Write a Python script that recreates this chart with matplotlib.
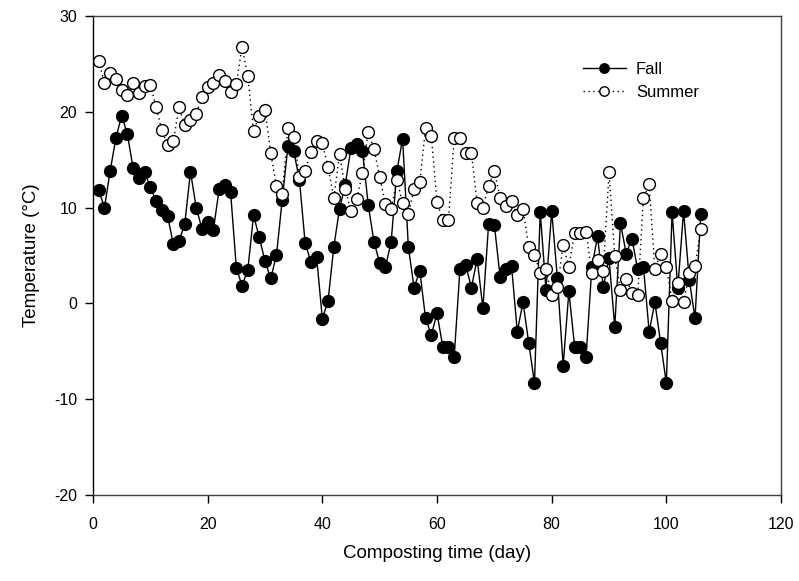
import matplotlib
matplotlib.use("Agg")
import matplotlib.pyplot as plt

plt.rcParams['font.family'] = ['Liberation Sans', 'DejaVu Sans']
plt.rcParams['axes.unicode_minus'] = False

# composting day for each sample
days = list(range(1, 107))

fall = [11.8, 10.0, 13.85, 17.3, 19.6, 17.65, 14.1, 13.1, 13.7, 12.15,
        10.7, 9.7, 9.15, 6.2, 6.55, 8.25, 13.75, 10.0, 7.8, 8.5,
        7.7, 11.9, 12.4, 11.6, 3.7, 1.85, 3.5, 9.2, 6.9, 4.4,
        2.6, 5.05, 10.8, 16.4, 15.9, 12.9, 6.3, 4.35, 4.85, -1.6,
        0.3, 5.9, 9.9, 12.4, 16.25, 16.6, 15.9, 10.3, 6.45, 4.2,
        3.8, 6.4, 13.8, 17.2, 5.9, 1.65, 3.4, -1.55, -3.3, -1.05,
        -4.5, -4.5, -5.55, 3.6, 4.0, 1.65, 4.65, -0.5, 8.3, 8.2,
        2.8, 3.55, 3.9, -2.95, 0.15, -4.15, -8.3, 9.55, 1.45, 9.65,
        2.6, -6.5, 1.25, -4.5, -4.5, -5.55, 3.75, 7.0, 1.7, 4.7,
        -2.45, 8.35, 5.2, 6.75, 3.55, 3.85, -2.95, 0.1, -4.1, -8.35,
        9.5, 1.6, 9.65, 2.45, -1.55, 9.35]

summer = [25.3, 23.0, 24.1, 23.4, 22.3, 21.8, 23.0, 22.0, 22.7, 22.8,
          20.5, 18.1, 16.5, 16.9, 20.5, 18.6, 19.1, 19.8, 21.5, 22.6,
          23.0, 23.8, 23.2, 22.1, 22.9, 26.8, 23.7, 18.0, 19.6, 20.2,
          15.7, 12.25, 11.4, 18.3, 17.4, 13.2, 13.85, 15.85, 17.0, 16.7,
          14.2, 11.0, 15.6, 11.9, 9.6, 10.9, 13.6, 17.9, 16.15, 13.2,
          10.35, 9.85, 12.9, 10.45, 9.3, 11.95, 12.65, 18.3, 17.5, 10.6,
          8.7, 8.7, 17.3, 17.3, 15.7, 15.7, 10.5, 10.0, 12.25, 13.85,
          11.0, 10.2, 10.7, 9.2, 9.9, 5.85, 5.05, 3.2, 3.6, 0.85,
          1.75, 6.05, 3.85, 7.4, 7.3, 7.5, 3.15, 4.55, 3.4, 13.7,
          4.9, 1.35, 2.55, 1.1, 0.9, 10.95, 12.45, 3.55, 5.2, 3.85,
          0.25, 2.1, 0.1, 3.15, 3.9, 7.75]

x_ticks = [0, 20, 40, 60, 80, 100, 120]
y_ticks = [-20, -10, 0, 10, 20, 30]

fig = plt.figure(figsize=(7.99, 5.81), dpi=100)
ax = fig.add_axes([0.1164, 0.148, 0.8611, 0.8245])

ax.plot(days, fall, color='black', linewidth=1.0, linestyle='-',
        marker='o', markersize=8.5, markerfacecolor='black',
        markeredgecolor='black', markeredgewidth=1.0, label='Fall')
ax.plot(days, summer, color='black', linewidth=1.0, linestyle=(0, (1, 2.5)),
        marker='o', markersize=8.5, markerfacecolor='white',
        markeredgecolor='black', markeredgewidth=1.0, label='Summer')

ax.set_xlim(0, 120)
ax.set_ylim(-20, 30)
ax.set_xticks(x_ticks)
ax.set_yticks(y_ticks)
ax.tick_params(direction='out', length=5.5, width=1, labelsize=11.5, colors='black')
ax.tick_params(axis='x', pad=10)
ax.tick_params(axis='y', pad=6)

for side in ['top', 'right', 'bottom']:
    ax.spines[side].set_color('#404040')
ax.spines['left'].set_color('black')
for s in ax.spines.values():
    s.set_linewidth(1.0)

ax.set_xlabel("Composting time (day)", fontsize=13.5, labelpad=10)
ax.set_ylabel("Temperature (°C)", fontsize=13.5, labelpad=10)

ax.legend(loc='upper left', bbox_to_anchor=(0.69, 0.935), frameon=False,
          fontsize=12, handlelength=2.6, handletextpad=0.6, labelspacing=0.45,
          markerscale=0.8)

fig.savefig("out.png", dpi=100)
